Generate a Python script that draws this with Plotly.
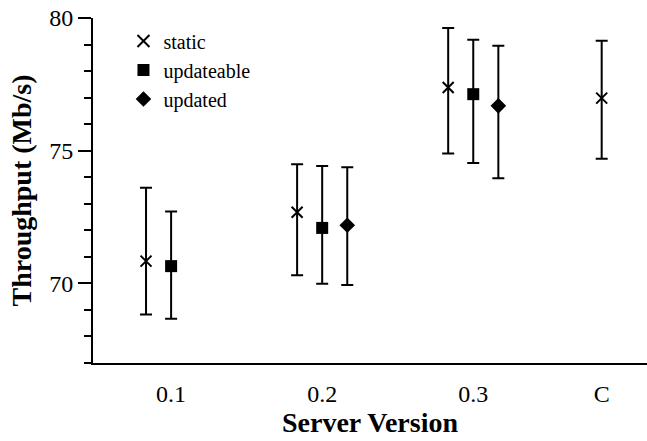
import plotly.graph_objects as go

# ---- data ----
versions = ["0.1", "0.2", "0.3", "C"]

static_mean = [70.84, 72.68, 77.38, 76.98]
static_high = [73.60, 74.49, 79.62, 79.14]
static_low = [68.83, 70.31, 74.89, 74.70]

updateable_mean = [70.65, 72.09, 77.13]
updateable_high = [72.71, 74.42, 79.18]
updateable_low = [68.67, 69.99, 74.54]

updated_mean = [72.19, 76.69]
updated_high = [74.38, 78.95]
updated_low = [69.94, 73.96]

# ---- layout positions for categories ----
group_pos = [1.0, 2.0, 3.0, 3.85]
offset = 0.166

FONT = "Liberation Serif"

fig = go.Figure()

def add_series(name, xs, mean, high, low, symbol, size):
    fig.add_trace(go.Scatter(
        x=xs, y=mean, mode="markers", name=name,
        marker=dict(symbol=symbol, size=size, color="black",
                    line=dict(color="black", width=2 if "x" in symbol else 0)),
        error_y=dict(type="data", symmetric=False,
                     array=[h - m for h, m in zip(high, mean)],
                     arrayminus=[m - l for m, l in zip(mean, low)],
                     color="black", thickness=2, width=6),
    ))

xs_static = [group_pos[0] - offset, group_pos[1] - offset, group_pos[2] - offset, group_pos[3]]
xs_upd = [group_pos[0], group_pos[1], group_pos[2]]
xs_updated = [group_pos[1] + offset, group_pos[2] + offset]

add_series("static", xs_static, static_mean, static_high, static_low, "x-thin", 11)
add_series("updateable", xs_upd, updateable_mean, updateable_high, updateable_low, "square", 12)
add_series("updated", xs_updated, updated_mean, updated_high, updated_low, "diamond", 12)

fig.update_layout(
    width=647, height=441,
    margin=dict(l=93, r=0, t=18, b=78),
    paper_bgcolor="white", plot_bgcolor="white",
    font=dict(family=FONT, size=24, color="black"),
    showlegend=True,
    legend=dict(x=0.055, y=0.99, xanchor="left", yanchor="top",
                bgcolor="rgba(0,0,0,0)",
                font=dict(family=FONT, size=20, color="black"),
                itemsizing="constant"),
    xaxis=dict(
        range=[0.483, 4.15], automargin=False,
        tickmode="array", tickvals=group_pos, ticktext=versions,
        tickfont=dict(family=FONT, size=24),
        ticks="", showgrid=False, zeroline=False,
        showline=True, linecolor="black", linewidth=2,
        ticklabelstandoff=8,
        title=dict(text="<b>Server Version</b>", font=dict(family=FONT, size=28), standoff=6),
    ),
    yaxis=dict(
        range=[67, 80], tickmode="linear", tick0=70, dtick=5, automargin=False,
        tickfont=dict(family=FONT, size=24),
        ticks="outside", ticklen=13, tickwidth=1.5, tickcolor="black",
        minor=dict(dtick=1, ticks="outside", ticklen=7, tickwidth=1.5, tickcolor="black", showgrid=False),
        showgrid=False, zeroline=False,
        showline=True, linecolor="black", linewidth=2,
        title=dict(text="<b>Throughput (Mb/s)</b>", font=dict(family=FONT, size=28), standoff=9),
    ),
)

fig.write_html("out.html", config={"displayModeBar": False},
               post_script="document.body.style.margin='0';")
